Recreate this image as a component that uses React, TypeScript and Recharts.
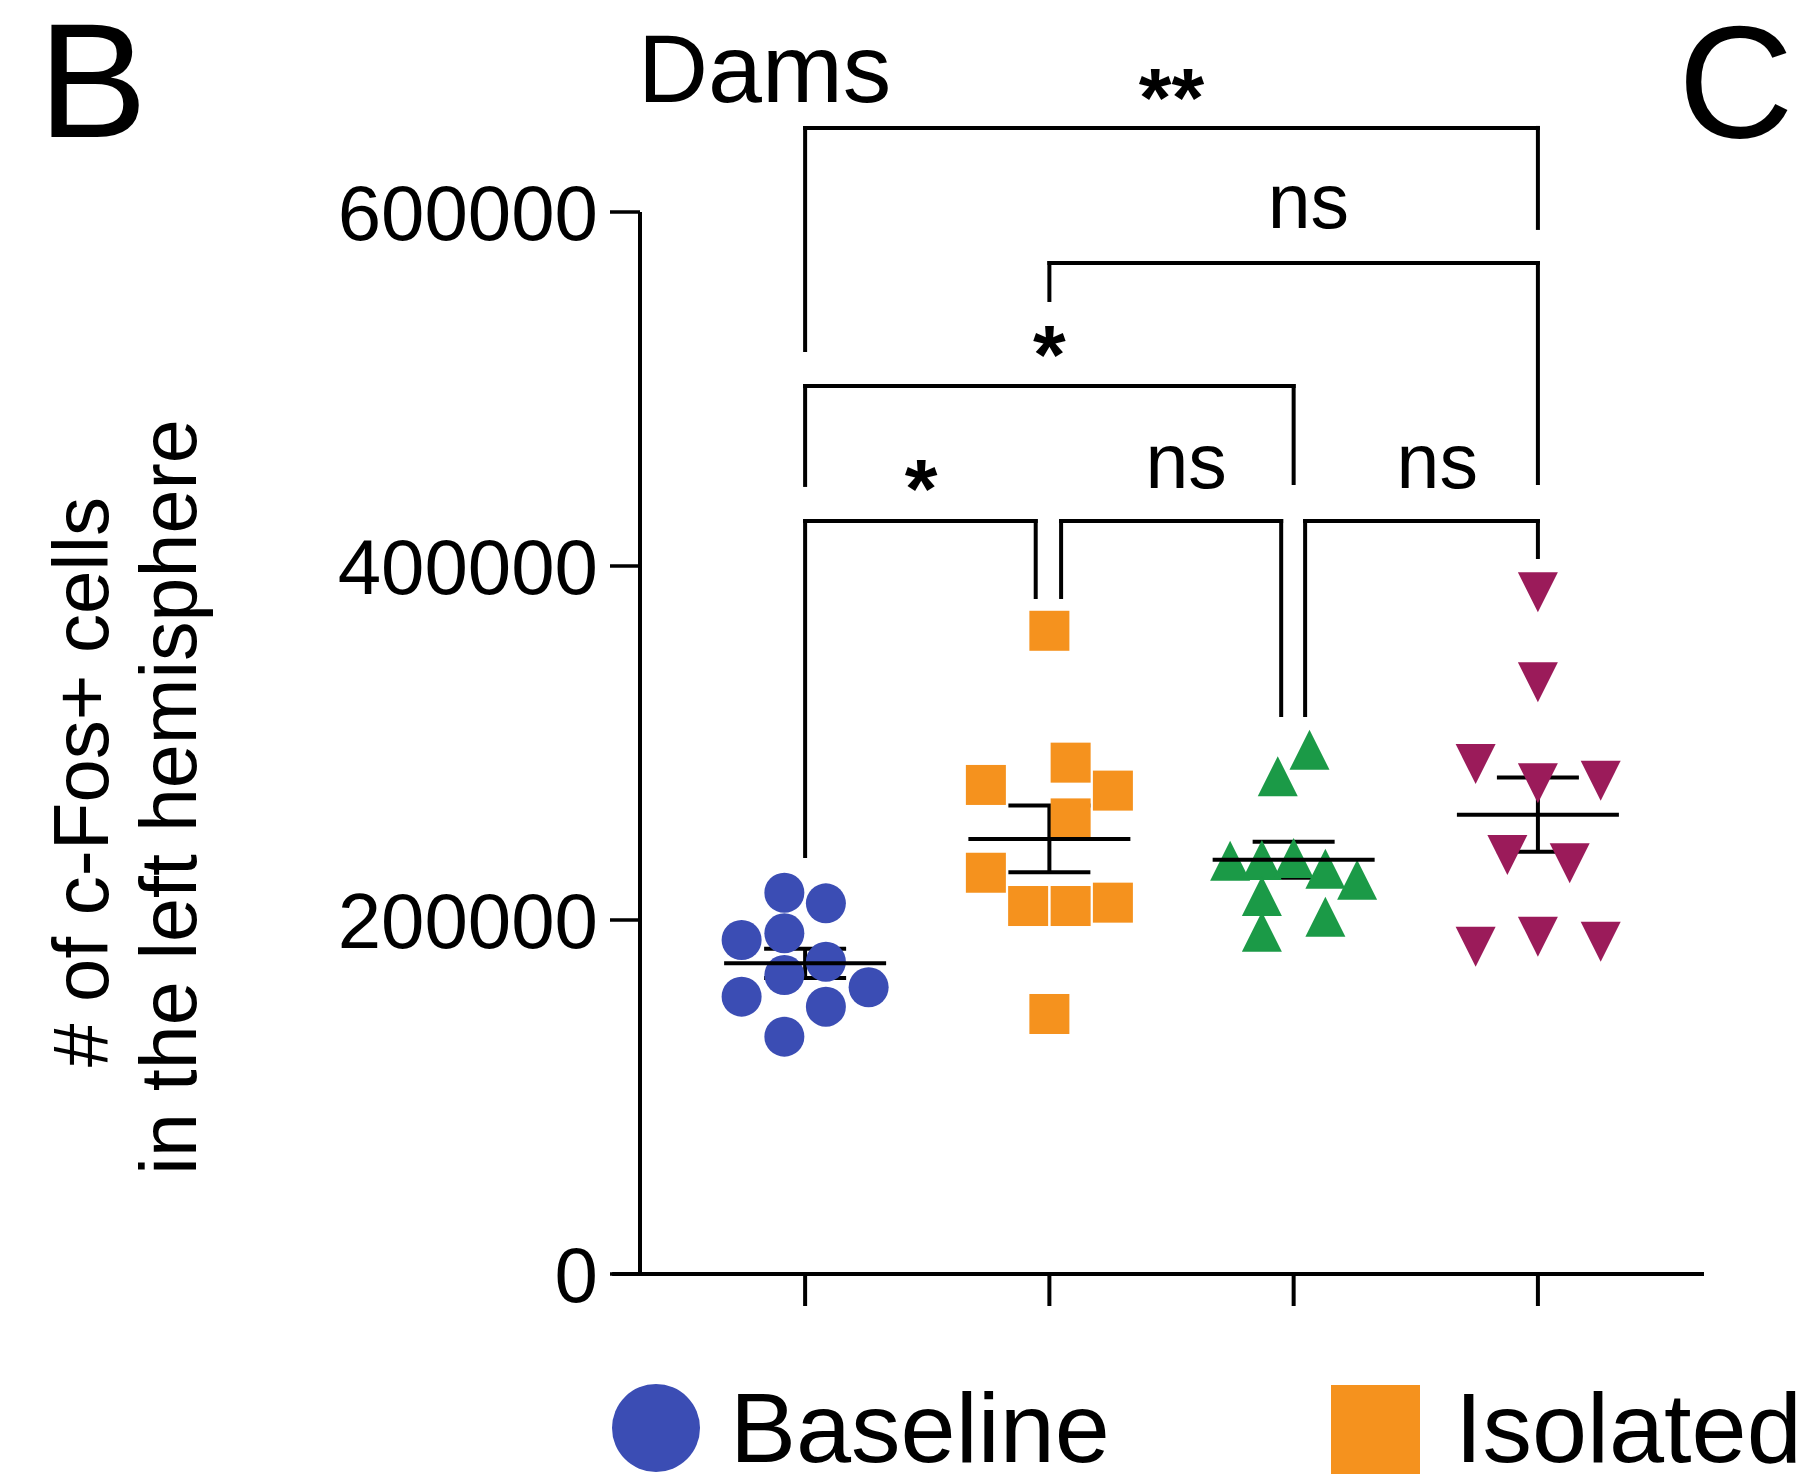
import React from "react";
import {
  ErrorBar,
  Legend,
  ReferenceDot,
  ReferenceLine,
  Scatter,
  ScatterChart,
  XAxis,
  YAxis,
} from "recharts";

// c-Fos+ cell counts per animal, one array per group
const baselineCells = [215400, 209400, 188700, 192500, 176400, 168900, 162000, 156700, 151000, 134100];
const isolatedCells = [363400, 288900, 276300, 273100, 257400, 226700, 207900, 207900, 209800, 146900];
const group3Cells = [296200, 281200, 233500, 233900, 235000, 213600, 222800, 229000, 193400, 201900];
const group4Cells = [385100, 334300, 288100, 277200, 278700, 236700, 232000, 184900, 190600, 187700];

// horizontal spread of each dot around its column (category units)
const baselineSpread = [-0.085, 0.085, -0.26, -0.085, 0.085, -0.085, 0.26, -0.26, 0.085, -0.085];
const isolatedSpread = [0, 0.087, -0.26, 0.26, 0.087, -0.26, -0.087, 0.087, 0.26, 0];
const group3Spread = [0.065, -0.065, -0.26, -0.13, 0, -0.13, 0.26, 0.13, -0.13, 0.13];
const group4Spread = [0, 0, -0.255, 0, 0.257, -0.125, 0.13, -0.255, 0, 0.257];

const groupNames = ["Baseline", "Isolated", "Group 3", "Group 4"];
const groupColors = ["#3b4db4", "#f5921e", "#1b9a47", "#9b1b5a"];
const yTicks = [0, 200000, 400000, 600000];
const xTicks = [1, 2, 3, 4];

// pairwise comparison brackets (x in columns, y in cell counts)
const brackets = [
  { fromX: 1, toX: 1.944, top: 425400, fromEnd: 236200, toEnd: 382500, label: "*", labelX: 1.475, labelY: 427100 },
  { fromX: 2.048, toX: 2.949, top: 425400, fromEnd: 382500, toEnd: 315800, label: "ns", labelX: 2.56, labelY: 444100 },
  { fromX: 3.047, toX: 4, top: 425400, fromEnd: 315800, toEnd: 405100, label: "ns", labelX: 3.588, labelY: 444100 },
  { fromX: 1, toX: 3, top: 501700, fromEnd: 445800, toEnd: 446900, label: "*", labelX: 2, labelY: 502800 },
  { fromX: 2, toX: 4, top: 571200, fromEnd: 550300, toEnd: 446900, label: "ns", labelX: 3.06, labelY: 591000 },
  { fromX: 1, toX: 4, top: 647500, fromEnd: 522000, toEnd: 591000, label: "**", labelX: 2.5, labelY: 648000 },
];

const FONT = '"Liberation Sans", Arial, Helvetica, sans-serif';

const allCells = [baselineCells, isolatedCells, group3Cells, group4Cells];
const allSpread = [baselineSpread, isolatedSpread, group3Spread, group4Spread];

const mean = (a: number[]) => a.reduce((s, v) => s + v, 0) / a.length;
const sem = (a: number[]) => {
  const m = mean(a);
  const v = a.reduce((s, x) => s + (x - m) ** 2, 0) / (a.length - 1);
  return Math.sqrt(v / a.length);
};

const groups = allCells.map((cells, i) => ({
  name: groupNames[i],
  color: groupColors[i],
  points: cells.map((y, j) => ({ x: i + 1 + allSpread[i][j], y })),
}));

const summary = allCells.map((cells, i) => ({ x: i + 1, y: mean(cells), sem: sem(cells) }));

const Circle = (p: any) => <circle cx={p.cx} cy={p.cy} r={20} fill={p.fill} />;
const Square = (p: any) => <rect x={p.cx - 20} y={p.cy - 20} width={40} height={40} fill={p.fill} />;
const TriUp = (p: any) => (
  <polygon
    points={`${p.cx},${p.cy - 20} ${p.cx - 20},${p.cy + 20} ${p.cx + 20},${p.cy + 20}`}
    fill={p.fill}
  />
);
const TriDown = (p: any) => (
  <polygon
    points={`${p.cx - 20},${p.cy - 20} ${p.cx + 20},${p.cy - 20} ${p.cx},${p.cy + 20}`}
    fill={p.fill}
  />
);
const markers = [Circle, Square, TriUp, TriDown];

const MeanLine = (p: any) => (
  <line x1={p.cx - 81} x2={p.cx + 81} y1={p.cy} y2={p.cy} stroke="#000" strokeWidth={4} />
);

function LegendContent() {
  return (
    <svg width={1818} height={97} style={{ display: "block" }}>
      <circle cx={656} cy={48} r={44} fill={groupColors[0]} />
      <text x={730} y={82} fontSize={99} fontFamily={FONT} fill="#000">
        {groupNames[0]}
      </text>
      <rect x={1331} y={5} width={89} height={89} fill={groupColors[1]} />
      <text x={1455} y={82} fontSize={99} fontFamily={FONT} fill="#000">
        {groupNames[1]}
      </text>
    </svg>
  );
}

export default function App() {
  const line = { stroke: "#000", strokeWidth: 4 };
  return (
    <div style={{ position: "absolute", left: 0, top: 0, width: 1818, height: 1477, background: "#fff" }}>
      <ScatterChart width={1818} height={1477} margin={{ top: 212, right: 114, bottom: 143, left: 0 }}>
        <XAxis
          type="number"
          dataKey="x"
          domain={[0.324, 4.68]}
          ticks={xTicks}
          allowDataOverflow
          tickFormatter={() => ""}
          tickSize={32}
          height={60}
          axisLine={line}
          tickLine={line}
        />
        <YAxis
          type="number"
          dataKey="y"
          domain={[0, 600000]}
          ticks={yTicks}
          allowDataOverflow
          width={640}
          tickSize={30}
          tickMargin={12}
          axisLine={line}
          tickLine={{ stroke: "#000", strokeWidth: 3.5 }}
          tick={{ fill: "#000", fontSize: 78, fontFamily: FONT }}
        />
        {/* x axis runs a little past the y axis on the left */}
        <ReferenceLine
          segment={[{ x: 0.21, y: 0 }, { x: 0.324, y: 0 }]}
          ifOverflow="visible"
          stroke="#000"
          strokeWidth={4}
        />

        {groups.map((g, i) => (
          <Scatter
            key={g.name}
            name={g.name}
            data={g.points}
            fill={g.color}
            shape={markers[i]}
            isAnimationActive={false}
          />
        ))}

        <Scatter name="Mean ± SEM" data={summary} shape={MeanLine} isAnimationActive={false}>
          <ErrorBar dataKey="sem" direction="y" width={41} stroke="#000" strokeWidth={4} isAnimationActive={false} />
        </Scatter>

        {brackets.flatMap((b, i) => [
          <ReferenceLine
            key={`l${i}`}
            segment={[{ x: b.fromX, y: b.fromEnd }, { x: b.fromX, y: b.top }]}
            ifOverflow="visible"
            stroke="#000"
            strokeWidth={4}
            strokeLinecap="square"
          />,
          <ReferenceLine
            key={`t${i}`}
            segment={[{ x: b.fromX, y: b.top }, { x: b.toX, y: b.top }]}
            ifOverflow="visible"
            stroke="#000"
            strokeWidth={4}
            strokeLinecap="square"
          />,
          <ReferenceLine
            key={`r${i}`}
            segment={[{ x: b.toX, y: b.top }, { x: b.toX, y: b.toEnd }]}
            ifOverflow="visible"
            stroke="#000"
            strokeWidth={4}
            strokeLinecap="square"
          />,
          <ReferenceDot
            key={`s${i}`}
            x={b.labelX}
            y={b.labelY}
            ifOverflow="visible"
            shape={(p: any) => (
              <text
                x={p.cx}
                y={p.cy}
                textAnchor="middle"
                fontFamily={FONT}
                fontSize={b.label === "ns" ? 77 : 84}
                fontWeight={b.label === "ns" ? 400 : 700}
                fill="#000"
              >
                {b.label}
              </text>
            )}
          />,
        ])}

        <Legend
          layout="horizontal"
          verticalAlign="middle"
          align="center"
          wrapperStyle={{ left: 0, top: 1380, width: 1818, height: 97 }}
          content={() => <LegendContent />}
        />
      </ScatterChart>

      <svg
        width={1818}
        height={1477}
        style={{ position: "absolute", left: 0, top: 0, pointerEvents: "none" }}
        fontFamily={FONT}
      >
        <text x={38} y={137} fontSize={164} fill="#000">B</text>
        <text x={1678} y={137} fontSize={160} fill="#000">C</text>
        <text x={638} y={102} fontSize={97} fill="#000">Dams</text>
        <text x={108} y={782} fontSize={78} fill="#000" textAnchor="middle" transform="rotate(-90 108 782)">
          # of c-Fos+ cells
        </text>
        <text x={196} y={797} fontSize={79} fill="#000" textAnchor="middle" transform="rotate(-90 196 797)">
          in the left hemisphere
        </text>
      </svg>
    </div>
  );
}
